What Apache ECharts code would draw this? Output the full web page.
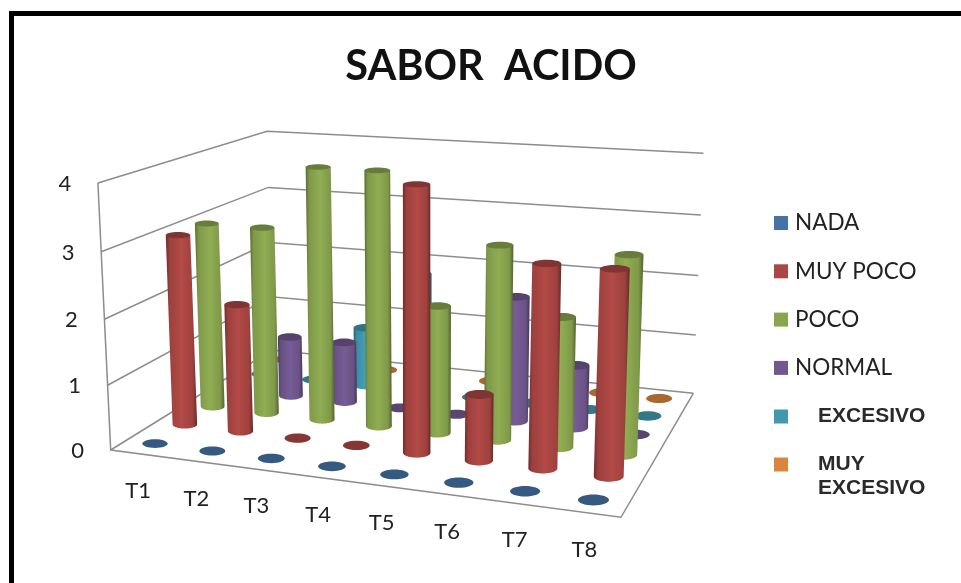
<!DOCTYPE html>
<html><head><meta charset="utf-8">
<style>html,body{margin:0;padding:0;background:#fff}#c{width:961px;height:583px}</style>
<script src="https://cdn.jsdelivr.net/npm/echarts@6/dist/echarts.min.js"></script>
</head><body><div id="c"></div>
<script>
const categories = ['T1','T2','T3','T4','T5','T6','T7','T8'];
const yTicks = [0,1,2,3,4];
const seriesNames = ['NADA','MUY POCO','POCO','NORMAL','EXCESIVO','MUY EXCESIVO'];
const nada        = [0,0,0,0,0,0,0,0];
const muyPoco     = [3,2,0,0,4,1,3,3];
const poco        = [3,3,4,4,2,3,2,3];
const normal      = [0,1,1,0,0,2,1,0];
const excesivo    = [0,0,1,2,0,0,0,0];
const muyExcesivo = [0,0,0,0,0,0,0,0];
const rows = [nada,muyPoco,poco,normal,excesivo,muyExcesivo];
const colors = ['#4572A7','#AA4643','#89A54E','#71588F','#4198AF','#DB843D'];
// scene camera: floor corners, corner top and the vanishing point of the verticals
const FL=[110.7,450],FR=[621,517.3],BR=[693.3,393.3],BL=[272,350];
const topOfFL=183, VP=[420,6900];

function homography(p0,p1,p2,p3){
  const dx1=p1[0]-p2[0],dx2=p3[0]-p2[0],sx=p0[0]-p1[0]+p2[0]-p3[0];
  const dy1=p1[1]-p2[1],dy2=p3[1]-p2[1],sy=p0[1]-p1[1]+p2[1]-p3[1];
  const d=dx1*dy2-dx2*dy1;
  const g=(sx*dy2-dx2*sy)/d,h=(dx1*sy-sx*dy1)/d;
  const a=p1[0]-p0[0]+g*p1[0],b=p3[0]-p0[0]+h*p3[0],c=p0[0];
  const e=p1[1]-p0[1]+g*p1[1],f=p3[1]-p0[1]+h*p3[1],k=p0[1];
  return (u,v)=>[a*u+b*v+c,e*u+f*v+k,g*u+h*v+1];
}
const floorH=homography(FL,FR,BR,BL);
const D=(topOfFL-FL[1])/(VP[1]-topOfFL);
function project(u,v,t){
  const p=floorH(u,v),w=p[2]+t*D;
  return [(p[0]+t*D*VP[0])/w,(p[1]+t*D*VP[1])/w];
}
function shade(hex,f){
  const n=parseInt(hex.slice(1),16);
  const c=[n>>16,(n>>8)&255,n&255].map(x=>Math.min(255,Math.round(x*f)));
  return 'rgb('+c.join(',')+')';
}
function zFraction(api,v){
  const y0=api.coord([0,0])[1],y4=api.coord([0,4])[1],y=api.coord([0,v])[1];
  return (y0-y)/(y0-y4);
}
function cylinder(row){
  return function(params,api){
    const i=api.value(0),val=api.value(1);
    const u=(i+0.5)/categories.length,v=(row+0.5)/seriesNames.length;
    const t=zFraction(api,val);
    const b=project(u,v,0),top=project(u,v,t);
    const l=project(u-0.0625,v,0),r=project(u+0.0625,v,0);
    const rx=Math.hypot(r[0]-l[0],r[1]-l[1])*0.222;
    const ry0=rx*0.35,ryT=rx*(0.35-0.13*t);
    const col=colors[row];
    const kids=[];
    if(val>0){
      const pts=[[top[0]-rx,top[1]]];
      for(let k=0;k<=24;k++){const a=Math.PI-Math.PI*k/24;pts.push([b[0]+rx*Math.cos(a),b[1]+ry0*Math.sin(a)]);}
      pts.push([top[0]+rx,top[1]]);
      kids.push({type:'polygon',shape:{points:pts},style:{fill:new echarts.graphic.LinearGradient(0,0,1,0,[
        {offset:0,color:shade(col,0.64)},{offset:0.12,color:shade(col,0.92)},{offset:0.5,color:shade(col,1.05)},{offset:0.86,color:shade(col,0.93)},{offset:1,color:shade(col,0.6)}])}});
    }
    kids.push({type:'ellipse',shape:{cx:top[0],cy:top[1],rx:rx,ry:val>0?ryT:ry0},style:{fill:shade(col,val>0?0.76:0.78)}});
    return {type:'group',children:kids};
  };
}
function wallLines(params,api){
  const t=zFraction(api,api.value(1));
  return {type:'polyline',shape:{points:[project(0,0,t),project(0,1,t),project(1,1,t)]},
    style:{fill:null,stroke:'#8c8c8c',lineWidth:1.5}};
}
function frameLines(params,api){
  const t4=zFraction(api,yTicks[yTicks.length-1]);
  return {type:'polyline',shape:{points:[project(0,0,t4),project(0,0,0),project(1,0,0),project(1,1,0)]},style:{fill:null,stroke:'#8c8c8c',lineWidth:1.5}};
}
function catText(params,api){
  const i=api.value(0);
  const p=project((i+0.5)/categories.length,0,0);
  return {type:'text',x:p[0]-1,y:p[1]+37,style:{text:categories[i],fill:'#222',font:'22px Lato',textAlign:'center',textVerticalAlign:'middle'}};
}
function valText(params,api){
  const val=api.value(1);
  const p=project(0,0,zFraction(api,val));
  return {type:'text',x:p[0]-33,y:p[1]+1,style:{text:String(val),fill:'#222',font:'22px Lato',textAlign:'center',textVerticalAlign:'middle'}};
}
const scene=[];
scene.push({type:'custom',name:'walls',coordinateSystem:'cartesian2d',renderItem:wallLines,encode:{x:0,y:1},silent:true,z:1,data:yTicks.map(v=>[0,v])});
scene.push({type:'custom',name:'frame',coordinateSystem:'cartesian2d',renderItem:frameLines,encode:{x:0,y:1},silent:true,z:1,data:[[0,0]]});
for(let r=rows.length-1;r>=0;r--){
  scene.push({type:'custom',name:seriesNames[r],coordinateSystem:'cartesian2d',renderItem:cylinder(r),encode:{x:0,y:1},
    itemStyle:{color:colors[r]},z:2+(rows.length-r),silent:true,data:rows[r].map((v,i)=>[i,v])});
}
scene.push({type:'custom',name:'catTicks',coordinateSystem:'cartesian2d',renderItem:catText,encode:{x:0,y:1},silent:true,z:20,data:categories.map((c,i)=>[i,0])});
scene.push({type:'custom',name:'valTicks',coordinateSystem:'cartesian2d',renderItem:valText,encode:{x:0,y:1},silent:true,z:20,data:yTicks.map(v=>[0,v])});

const chart=echarts.init(document.getElementById('c'),null,{renderer:'canvas'});
chart.setOption({
  animation:false,backgroundColor:'#fff',
  title:{text:'SABOR  ACIDO',left:486,top:41,textAlign:'center',textStyle:{fontFamily:'Lato',fontWeight:'bold',fontSize:41.5,color:'#111'}},
  grid:{left:84,right:200,top:182,bottom:133},
  xAxis:{type:'category',data:categories,show:false},
  yAxis:{type:'value',min:0,max:4,interval:1,show:false},
  legend:[
    {orient:'vertical',left:774,top:210,padding:0,itemWidth:14,itemHeight:14,itemGap:22.3,icon:'rect',selectedMode:false,
     data:seriesNames.slice(0,4),textStyle:{fontFamily:'Lato',fontSize:22.5,color:'#222',padding:[0,0,0,2],lineHeight:26}},
    {orient:'vertical',left:774,top:406,padding:0,itemWidth:14,itemHeight:14,icon:'rect',selectedMode:false,
     data:[seriesNames[4]],formatter:n=>'{b|'+n+'}',
     textStyle:{rich:{b:{fontFamily:'Liberation Sans',fontWeight:'bold',fontSize:21,color:'#2a2a2a',padding:[0,0,0,25]}}}},
    {orient:'vertical',left:774,top:430,padding:0,itemWidth:14,itemHeight:14,icon:'rect',selectedMode:false,
     data:[seriesNames[5]],formatter:()=>'{b| }\n{b|MUY}\n{b|EXCESIVO}',
     textStyle:{rich:{b:{fontFamily:'Liberation Sans',fontWeight:'bold',fontSize:21,lineHeight:24,color:'#2a2a2a',padding:[0,0,0,25]}}}}
  ],
  graphic:[
    {type:'rect',shape:{x:9,y:11,width:952,height:5},style:{fill:'#000'},silent:true},
    {type:'rect',shape:{x:9,y:11,width:5,height:572},style:{fill:'#000'},silent:true}
  ],
  series:scene
});
</script></body></html>
